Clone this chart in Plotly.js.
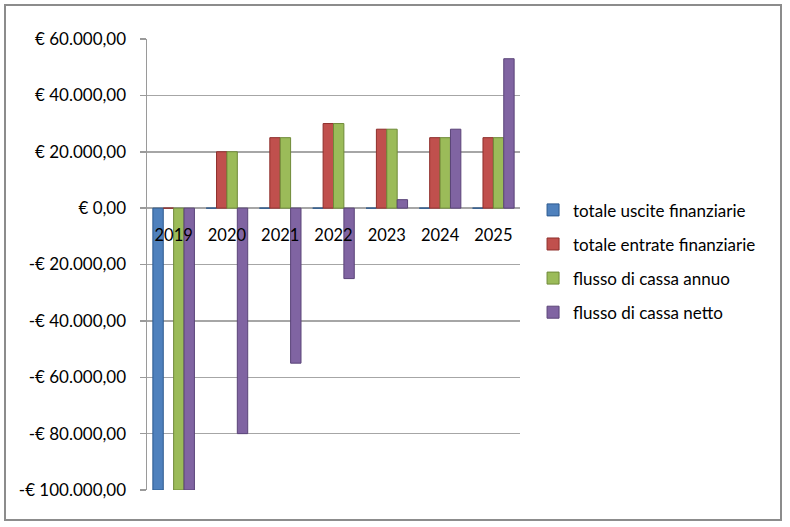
<!DOCTYPE html>
<html>
<head>
<meta charset="utf-8">
<script src="https://cdn.plot.ly/plotly-3.0.1.min.js"></script>
<style>html,body{margin:0;padding:0;background:#fff;}#chart{width:790px;height:527px;}</style>
</head>
<body>
<div id="chart"></div>
<script>
const years = ['2019', '2020', '2021', '2022', '2023', '2024', '2025'];
const seriesNames = ['totale uscite finanziarie', 'totale entrate finanziarie', 'flusso di cassa annuo', 'flusso di cassa netto'];
const usciteFinanziarie = [-100000, 0, 0, 0, 0, 0, 0];
const entrateFinanziarie = [0, 20000, 25000, 30000, 28000, 25000, 25000];
const flussoAnnuo = [-100000, 20000, 25000, 30000, 28000, 25000, 25000];
const flussoNetto = [-100000, -80000, -55000, -25000, 3000, 28000, 53000];
const yTickVals = [60000, 40000, 20000, 0, -20000, -40000, -60000, -80000, -100000];
const yTickText = ['€ 60.000,00', '€ 40.000,00', '€ 20.000,00', '€ 0,00', '-€ 20.000,00', '-€ 40.000,00', '-€ 60.000,00', '-€ 80.000,00', '-€ 100.000,00'];

const colors = ['#4F81BD', '#C0504D', '#9BBB59', '#8064A2'];
const edges = ['#2C5A8F', '#8E2E2B', '#6F8A38', '#5A4478'];
const allSeries = [usciteFinanziarie, entrateFinanziarie, flussoAnnuo, flussoNetto];

const traces = allSeries.map((vals, i) => ({
  type: 'bar',
  x: years,
  y: vals,
  name: seriesNames[i],
  legendgroup: 'g' + i,
  marker: {color: colors[i], line: {color: edges[i], width: 1}},
  hoverinfo: 'x+y+name'
}));

const FONT = 'Lato, "Open Sans", sans-serif';

const layout = {
  width: 790,
  height: 527,
  paper_bgcolor: '#ffffff',
  plot_bgcolor: 'rgba(0,0,0,0)',
  font: {family: FONT, size: 17, color: '#000'},
  margin: {l: 147, r: 270, t: 39, b: 37},
  barmode: 'group',
  bargap: 0.22,
  bargroupgap: 0,
  showlegend: true,
  legend: {
    x: 1.035, xanchor: 'left', y: 0.507, yanchor: 'middle',
    font: {size: 17, family: FONT},
    tracegroupgap: 9,
    itemwidth: 30,
    bgcolor: 'rgba(0,0,0,0)'
  },
  xaxis: {
    type: 'category',
    anchor: 'free',
    position: 0.60,
    showline: false,
    showgrid: false,
    zeroline: false,
    ticks: '',
    tickfont: {size: 16.5},
    ticklabelstandoff: 4
  },
  yaxis: {
    range: [-100000, 60000],
    tickvals: yTickVals,
    ticktext: yTickText,
    showline: true,
    linecolor: '#9a9a9a',
    linewidth: 1.5,
    ticks: 'outside',
    ticklen: 6,
    tickcolor: '#9a9a9a',
    tickwidth: 1.5,
    showgrid: true,
    gridcolor: '#a6a6a6',
    gridwidth: 1.5,
    zeroline: true,
    zerolinecolor: '#a6a6a6',
    zerolinewidth: 1.5,
    tickfont: {size: 17},
    ticklabelstandoff: 10
  },
  shapes: [{
    type: 'rect', xref: 'paper', yref: 'paper', layer: 'below',
    x0: -142/373, x1: (781-147)/373, y0: -(520-490)/451, y1: (490-5)/451,
    line: {color: '#8c8c8c', width: 2}, fillcolor: 'rgba(0,0,0,0)'
  }]
};

Plotly.newPlot('chart', traces, layout, {displayModeBar: false, staticPlot: true});
</script>
</body>
</html>
